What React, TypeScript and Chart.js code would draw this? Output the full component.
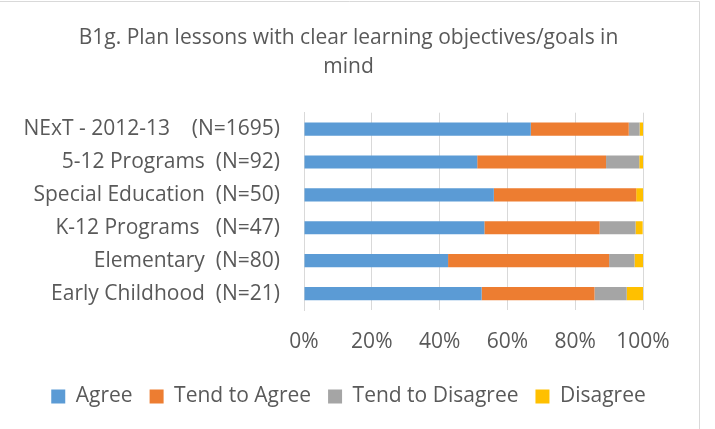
import React, { useEffect, useRef } from "react";
import { Chart, registerables } from "chart.js";

Chart.register(...registerables);

const categories = [
  "NExT - 2012-13    (N=1695)",
  "5-12 Programs  (N=92)",
  "Special Education  (N=50)",
  "K-12 Programs   (N=47)",
  "Elementary  (N=80)",
  "Early Childhood  (N=21)",
];
const agree = [66.9, 51.1, 56, 53.2, 42.5, 52.4];
const tendToAgree = [28.9, 38.0, 42, 34.0, 47.5, 33.3];
const tendToDisagree = [3.2, 9.8, 0, 10.6, 7.5, 9.5];
const disagree = [1.0, 1.1, 2, 2.1, 2.5, 4.8];
const xTicks = [0, 20, 40, 60, 80, 100];

const FONT = "'Open Sans', sans-serif";
const TEXT = "#595959";

const frame = {
  id: "frame",
  beforeDraw(chart: any) {
    const ctx = chart.ctx;
    ctx.save();
    ctx.fillStyle = "#ffffff";
    ctx.fillRect(0, 0, chart.width, chart.height);
    ctx.strokeStyle = "#d9d9d9";
    ctx.lineWidth = 1;
    ctx.beginPath();
    ctx.moveTo(0, 1.5);
    ctx.lineTo(699.5, 1.5);
    ctx.lineTo(699.5, chart.height);
    ctx.stroke();
    ctx.restore();
  },
};

export default function App() {
  const ref = useRef<HTMLCanvasElement>(null);
  useEffect(() => {
    const chart = new Chart(ref.current!, {
      type: "bar",
      data: {
        labels: categories,
        datasets: [
          { label: "Agree", data: agree, backgroundColor: "#5B9BD5" },
          { label: "Tend to Agree", data: tendToAgree, backgroundColor: "#ED7D31" },
          { label: "Tend to Disagree", data: tendToDisagree, backgroundColor: "#A5A5A5" },
          { label: "Disagree", data: disagree, backgroundColor: "#FFC000" },
        ],
      },
      plugins: [frame],
      options: {
        animation: false,
        responsive: false,
        indexAxis: "y",
        datasets: { bar: { barPercentage: 0.5, categoryPercentage: 0.8 } },
        layout: { padding: { left: 0, right: 18, top: 0, bottom: 12 } },
        scales: {
          x: {
            stacked: true,
            min: 0,
            max: 100,
            afterBuildTicks: (scale: any) => {
              scale.ticks = xTicks.map((v) => ({ value: v }));
            },
            afterFit: (scale: any) => {
              scale.height = 59;
            },
            grid: { color: "#d9d9d9", drawTicks: false },
            border: { display: false },
            ticks: {
              padding: 19,
              color: TEXT,
              font: { family: FONT, size: 21 },
              callback: (v: any) => v + "%",
            },
          },
          y: {
            stacked: true,
            afterFit: (scale: any) => {
              scale.width = 304;
            },
            grid: { display: false, drawTicks: false },
            border: { display: true, color: "#d9d9d9" },
            ticks: {
              autoSkip: false,
              padding: 24,
              color: TEXT,
              font: { family: FONT, size: 21 },
            },
          },
          yRight: {
            axis: "y",
            type: "category",
            position: "right",
            afterFit: (scale: any) => {
              scale.width = 54;
            },
            grid: { display: false, drawTicks: false },
            border: { display: false },
            ticks: { display: false },
          },
        },
        plugins: {
          title: {
            display: true,
            text: ["B1g. Plan lessons with clear learning objectives/goals in", "mind"],
            color: TEXT,
            font: { family: FONT, size: 21, weight: "normal", lineHeight: 1.35 },
            padding: { top: 24, bottom: 32 },
          },
          legend: {
            position: "bottom",
            labels: {
              color: TEXT,
              font: { family: FONT, size: 21 },
              boxWidth: 14,
              boxHeight: 14,
              padding: 17,
            },
          },
          tooltip: { enabled: false },
        },
      },
    });
    return () => chart.destroy();
  }, []);
  return (
    <div style={{ position: "fixed", left: 0, top: 0, width: 715, height: 429 }}>
      <canvas ref={ref} width={715} height={429} />
    </div>
  );
}
